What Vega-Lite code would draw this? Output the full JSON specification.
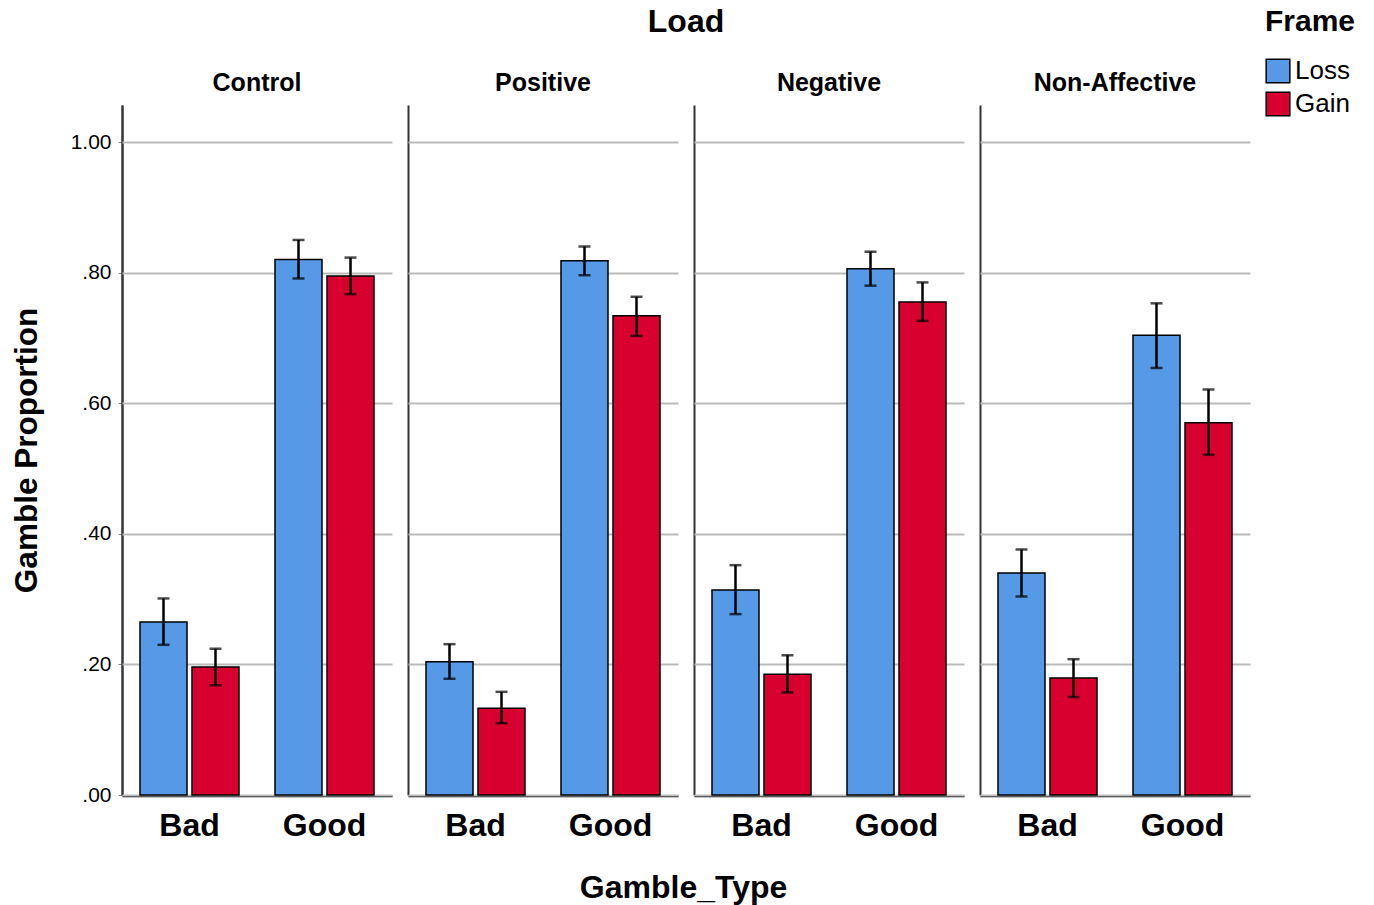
{
  "$schema": "https://vega.github.io/schema/vega-lite/v6.json",
  "background": "white",
  "padding": {"left": 11, "top": 6, "right": 5, "bottom": 5},
  "title": {"text": "Gamble_Type", "orient": "bottom", "anchor": "middle", "frame": "bounds", "fontSize": 32, "fontWeight": "bold", "font": "Liberation Sans", "color": "black", "offset": 32},
  "data": {"values": [
    {"Load": "Control", "Gamble_Type": "Bad", "Frame": "Loss", "value": 0.265, "lo": 0.230, "hi": 0.301},
    {"Load": "Control", "Gamble_Type": "Bad", "Frame": "Gain", "value": 0.196, "lo": 0.168, "hi": 0.224},
    {"Load": "Control", "Gamble_Type": "Good", "Frame": "Loss", "value": 0.820, "lo": 0.791, "hi": 0.850},
    {"Load": "Control", "Gamble_Type": "Good", "Frame": "Gain", "value": 0.795, "lo": 0.767, "hi": 0.823},
    {"Load": "Positive", "Gamble_Type": "Bad", "Frame": "Loss", "value": 0.204, "lo": 0.178, "hi": 0.231},
    {"Load": "Positive", "Gamble_Type": "Bad", "Frame": "Gain", "value": 0.133, "lo": 0.110, "hi": 0.158},
    {"Load": "Positive", "Gamble_Type": "Good", "Frame": "Loss", "value": 0.818, "lo": 0.796, "hi": 0.840},
    {"Load": "Positive", "Gamble_Type": "Good", "Frame": "Gain", "value": 0.734, "lo": 0.703, "hi": 0.763},
    {"Load": "Negative", "Gamble_Type": "Bad", "Frame": "Loss", "value": 0.314, "lo": 0.277, "hi": 0.352},
    {"Load": "Negative", "Gamble_Type": "Bad", "Frame": "Gain", "value": 0.185, "lo": 0.157, "hi": 0.214},
    {"Load": "Negative", "Gamble_Type": "Good", "Frame": "Loss", "value": 0.806, "lo": 0.780, "hi": 0.832},
    {"Load": "Negative", "Gamble_Type": "Good", "Frame": "Gain", "value": 0.755, "lo": 0.726, "hi": 0.785},
    {"Load": "Non-Affective", "Gamble_Type": "Bad", "Frame": "Loss", "value": 0.340, "lo": 0.304, "hi": 0.376},
    {"Load": "Non-Affective", "Gamble_Type": "Bad", "Frame": "Gain", "value": 0.179, "lo": 0.150, "hi": 0.208},
    {"Load": "Non-Affective", "Gamble_Type": "Good", "Frame": "Loss", "value": 0.704, "lo": 0.654, "hi": 0.753},
    {"Load": "Non-Affective", "Gamble_Type": "Good", "Frame": "Gain", "value": 0.570, "lo": 0.521, "hi": 0.621}
  ]},
  "facet": {
    "column": {
      "field": "Load", "type": "nominal",
      "sort": ["Control", "Positive", "Negative", "Non-Affective"],
      "header": {
        "title": "Load", "titleFontSize": 32, "titleFontWeight": "bold", "titleFont": "Liberation Sans", "titleColor": "black", "titlePadding": 22,
        "labelFontSize": 25, "labelFontWeight": "bold", "labelFont": "Liberation Sans", "labelColor": "black", "labelPadding": 9
      }
    }
  },
  "spacing": 16,
  "spec": {
    "width": 270,
    "height": 690,
    "encoding": {
      "x": {
        "field": "Gamble_Type", "type": "nominal", "sort": ["Bad", "Good"],
        "scale": {"paddingInner": 0, "paddingOuter": 0},
        "axis": {
          "title": null, "labelAngle": 0, "labelFontSize": 32, "labelFontWeight": "bold", "labelFont": "Liberation Sans", "labelColor": "black",
          "labelPadding": 14, "ticks": false, "domainColor": "black", "domainWidth": 1.5,
          "bandPosition": 0,
          "grid": true, "gridColor": "#333333", "gridWidth": 2,
          "gridOpacity": {"condition": {"test": "datum.value === 'Bad'", "value": 1}, "value": 0}
        }
      },
      "xOffset": {"field": "Frame", "type": "nominal", "sort": ["Loss", "Gain"], "scale": {"paddingInner": 0.096, "paddingOuter": 0.346}}
    },
    "layer": [
      {
        "mark": {"type": "bar", "stroke": "black", "strokeWidth": 1.5},
        "encoding": {
          "y": {
            "field": "value", "type": "quantitative",
            "scale": {"domain": [0, 1.0567], "nice": false},
            "axis": {
              "title": "Gamble Proportion", "titleFontSize": 31.5, "titleFontWeight": "bold", "titleFont": "Liberation Sans", "titleColor": "black", "titlePadding": 27,
              "values": [0, 0.2, 0.4, 0.6, 0.8, 1],
              "labelExpr": "datum.value < 1 ? slice(format(datum.value, '.2f'), 1) : format(datum.value, '.2f')",
              "labelFontSize": 21, "labelFont": "Liberation Sans", "labelColor": "black", "labelPadding": 7,
              "domainColor": "#444444", "domainWidth": 2, "tickSize": 4, "tickColor": "#888888",
              "gridColor": "#bbbbbb", "gridWidth": 2
            }
          },
          "color": {
            "field": "Frame", "type": "nominal",
            "scale": {"domain": ["Loss", "Gain"], "range": ["#5699E6", "#D7002F"]},
            "legend": {
              "title": "Frame", "orient": "none", "legendX": 1143, "legendY": -98,
              "titleFontSize": 30, "titleFontWeight": "bold", "titleFont": "Liberation Sans", "titleColor": "black", "titlePadding": 21,
              "labelFontSize": 26, "labelFont": "Liberation Sans", "labelColor": "black", "labelOffset": 4,
              "symbolType": "square", "symbolSize": 560, "symbolStrokeColor": "black", "symbolStrokeWidth": 1.5, "rowPadding": 3
            }
          }
        }
      },
      {
        "mark": {"type": "rule", "color": "black", "strokeWidth": 2.5},
        "encoding": {
          "y": {"field": "lo", "type": "quantitative"},
          "y2": {"field": "hi"}
        }
      },
      {
        "mark": {"type": "tick", "color": "black", "thickness": 2.5, "size": 12},
        "encoding": {"y": {"field": "lo", "type": "quantitative"}}
      },
      {
        "mark": {"type": "tick", "color": "black", "thickness": 2.5, "size": 12},
        "encoding": {"y": {"field": "hi", "type": "quantitative"}}
      }
    ]
  },
  "config": {
    "view": {"stroke": null},
    "font": "Liberation Sans"
  }
}
